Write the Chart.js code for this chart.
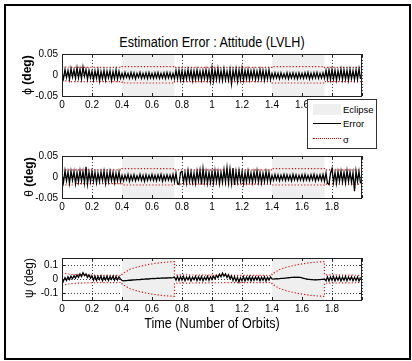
<!DOCTYPE html>
<html>
<head>
<meta charset="utf-8">
<script src="https://cdn.jsdelivr.net/npm/chart.js@4.4.1/dist/chart.umd.min.js"></script>
<style>
  body { margin: 0; background: #fff; width: 412px; height: 361px; overflow: hidden; position: relative;
         font-family: "Liberation Sans", Arial, sans-serif; color: #000; }
  #frame { position: absolute; left: 4px; top: 4px; width: 407px; height: 356px; box-sizing: border-box; border: 2px solid #000; }
  canvas { position: absolute; left: 0; }
  .ylab { position: absolute; transform: translate(-50%, -50%) rotate(-90deg); white-space: nowrap; font-size: 12px; }
  .ylab b { font-weight: bold; }
  #title { position: absolute; left: 212px; top: 42px; transform: translate(-50%, -50%) scaleX(0.9); font-size: 14px; white-space: nowrap; }
  #xtitle { position: absolute; left: 212px; top: 323px; transform: translate(-50%, -50%) scaleX(0.9); font-size: 14px; white-space: nowrap; }
  #legend { position: absolute; left: 307px; top: 99px; width: 70px; height: 50px; box-sizing: border-box;
            border: 1px solid #333; background: #fff; z-index: 2; font-size: 9.5px; }
  #legend .sw { position: absolute; left: 5px; width: 28px; }
  #legend .tx { position: absolute; left: 35px; }
</style>
</head>
<body>
<div id="frame"></div>
<div id="title">Estimation Error : Attitude (LVLH)</div>
<canvas id="cPhi"></canvas>
<canvas id="cTheta"></canvas>
<canvas id="cPsi"></canvas>
<div class="ylab" style="left:27px;top:75px">ϕ <b>(deg)</b></div>
<div class="ylab" style="left:29px;top:177px">θ <b>(deg)</b></div>
<div class="ylab" style="left:29px;top:278px">ψ (deg)</div>
<div id="xtitle">Time (Number of Orbits)</div>
<div id="legend">
  <div class="sw" style="top:4px;height:11px;background:#efefef"></div>
  <div class="tx" style="top:4px">Eclipse</div>
  <div class="sw" style="top:23px;height:0;border-top:1px solid #000"></div>
  <div class="tx" style="top:18px">Error</div>
  <div class="sw" style="top:38px;height:0;border-top:1px dotted #e00"></div>
  <div class="tx" style="top:34px">σ</div>
</div>
<script>
// time axis: orbits, one error sample every 0.01 orbit
const sampleStep = 0.01;
const eclipses = [[0.4, 0.75], [1.4, 1.75]];

// roll error (deg)
const phiErr = [
  .006,-.009,.013,-.006,.011,-.010,.015,-.005,.012,-.008,.017,-.007,.014,-.009,.019,-.003,.013,-.010,.011,-.007,
  .009,-.011,.010,-.008,.012,-.014,.008,-.009,.011,-.012,.009,-.007,.010,-.013,.008,-.009,.012,-.010,.009,-.008,
  .004,-.008,.006,-.006,.004,-.008,.006,-.007,.005,-.009,.004,-.006,.006,-.008,.004,-.007,.005,-.008,.006,-.007,
  .004,-.008,.005,-.007,.006,-.008,.004,-.007,.005,-.008,.006,-.007,.005,-.008,.004,-.009,.011,-.009,.012,-.011,
  .010,-.012,.009,-.010,.013,-.009,.011,-.013,.010,-.011,.012,-.010,.009,-.012,.011,-.009,.013,-.011,.010,-.015,
  .017,-.014,.012,-.011,.015,-.012,.010,-.013,.014,-.011,.009,-.012,.013,-.021,.011,-.010,.014,-.015,.012,-.011,
  .016,-.012,.011,-.010,.013,-.011,.010,-.009,.012,-.011,.009,-.010,.013,-.009,.011,-.012,.010,-.009,.012,-.010,
  .004,-.008,.005,-.007,.004,-.009,.005,-.007,.003,-.008,.005,-.009,.004,-.007,.005,-.008,.004,-.009,.005,-.007,
  .004,-.008,.005,-.007,.006,-.009,.004,-.008,.005,-.007,.006,-.008,.004,-.007,.005,-.008,.011,-.010,.012,-.011,
  .013,-.010,.011,-.012,.010,-.009,.014,-.011,.012,-.010,.011,-.012,.013,-.009,.010,-.011,.012,-.010,.015,-.009
];
// pitch error (deg)
const thetaErr = [
  .008,-.013,.015,-.009,.012,-.015,.014,-.008,.013,-.016,.011,-.012,.015,-.010,.013,-.014,.024,-.017,.012,-.011,
  .013,-.010,.011,-.014,.009,-.011,.012,-.009,.014,-.015,.010,-.011,.013,-.009,.011,-.013,.009,-.010,.012,-.011,
  .004,-.009,.004,-.007,.006,-.010,.004,-.008,.005,-.009,.003,-.007,.006,-.008,.004,-.010,.005,-.008,.004,-.007,
  .006,-.008,.004,-.009,.005,-.007,.006,-.010,.004,-.008,.005,-.007,.004,-.009,.006,-.011,.009,-.015,-.018,.011,
  .013,-.012,.010,-.014,.015,-.011,.012,-.013,.009,-.015,.014,-.010,.016,-.018,.020,-.012,.013,-.015,.011,-.013,
  .012,-.014,.015,-.011,.013,-.016,.011,-.013,.017,-.012,.022,-.014,.019,-.015,.021,-.019,.013,-.012,.015,-.011,
  .012,-.015,.010,-.012,.014,-.011,.009,-.013,.012,-.010,.015,-.012,.011,-.014,.009,-.011,.013,-.010,.011,-.012,
  .004,-.008,.006,-.007,.005,-.009,.004,-.007,.006,-.008,.005,-.007,.004,-.009,.006,-.007,.005,-.008,.004,-.007,
  .005,-.008,.006,-.007,.004,-.008,.005,-.007,.006,-.009,.004,-.007,.005,-.008,.006,-.010,.009,-.015,-.018,.009,
  .020,-.013,.011,-.015,.013,-.010,.014,-.012,.011,-.014,.015,-.011,.012,-.013,.010,-.034,.014,-.011,.013,-.015
];
// yaw error (deg)
const psiErr = [
  -.040,-.012,.010,-.010,.016,-.004,.020,.002,.024,.006,.030,.012,.036,.018,.044,.024,.036,.012,.030,.006,
  .022,-.008,.020,-.010,.018,-.004,.021,-.012,.016,-.006,.019,-.010,.017,-.002,.020,-.009,.018,-.007,.016,.000,
  -.010,-.013,-.012,-.011,-.010,-.009,-.009,-.007,-.006,-.006,-.005,-.004,-.004,-.002,-.003,-.001,.000,.001,.000,.002,
  .003,.004,.003,.005,.006,.005,.006,.007,.006,.008,.007,.008,.009,.008,.010,.014,-.008,.018,-.010,.016,
  -.008,.017,-.012,.014,-.006,.016,-.014,.013,-.004,.018,-.010,.015,-.008,.017,-.012,.013,-.006,.019,-.009,.016,
  -.004,.020,.002,.026,.010,.034,.016,.042,.020,.036,.010,.030,.002,.022,-.010,.016,-.014,.012,-.022,.010,
  -.012,.016,-.014,.013,-.008,.017,-.013,.014,-.010,.015,-.007,.016,-.012,.013,-.009,.016,-.014,.012,-.008,.014,
  .000,-.001,.001,.002,.001,.003,.004,.005,.004,.006,.008,.009,.010,.011,.012,.013,.012,.014,.012,.011,
  .008,.005,.002,.000,-.002,-.003,-.004,-.005,-.006,-.005,-.006,-.005,-.004,-.003,-.002,.000,-.012,.016,-.014,.014,
  -.010,.017,-.013,.015,-.008,.016,-.014,.013,-.009,.018,-.012,.014,-.007,.016,-.013,.012,-.010,.015,-.014,.013
];

// sigma envelopes (deg) at breakpoints in orbits
const phiSigT  = [0, 0.06, 0.06, 0.4, 0.4, 0.75, 0.75, 1.4, 1.4, 1.75, 1.75, 2.0];
const phiSigHi = [.019, .019, .018, .018, .020, .020, .018, .018, .020, .020, .018, .018];
const phiSigLo = [-.014, -.014, -.016, -.016, -.019, -.019, -.016, -.016, -.019, -.019, -.016, -.016];

const thetaSigT  = [0, 0.1, 0.1, 0.4, 0.4, 0.75, 0.75, 1.4, 1.4, 1.75, 1.75, 2.0];
const thetaSigHi = [.017, .017, .017, .017, .020, .020, .017, .017, .020, .020, .017, .017];
const thetaSigLo = [-.019, -.019, -.016, -.016, -.019, -.019, -.017, -.017, -.019, -.019, -.017, -.017];

const psiSigT  = [0, 0.02, 0.05, 0.1, 0.2, 0.4, 0.4, 0.45, 0.5, 0.55, 0.6, 0.65, 0.7, 0.75, 0.75, 1.0, 1.4,
                  1.4, 1.45, 1.5, 1.55, 1.6, 1.65, 1.7, 1.75, 1.75, 2.0];
const psiSigHi = [.045, .040, .034, .030, .027, .025, .035, .068, .085, .098, .108, .116, .121, .124, .030, .027, .025,
                  .035, .068, .085, .098, .108, .116, .121, .124, .030, .026];
const psiSigLo = [-.045, -.040, -.034, -.030, -.027, -.025, -.035, -.068, -.085, -.098, -.108, -.116, -.121, -.124, -.030, -.027, -.025,
                  -.035, -.068, -.085, -.098, -.108, -.116, -.121, -.124, -.030, -.026];

const smallTicks = [-0.05, 0, 0.05];
const psiTicks = [-0.1, 0, 0.1];

const PAD_TOP = 8, AXIS_H = 22, PLOT_H = 44;
const tickFont = { family: '"Liberation Sans", Arial, sans-serif', size: 10 };

const panels = [
  { id: 'cPhi',   top: 52,  err: phiErr,   sigT: phiSigT,   hi: phiSigHi,   lo: phiSigLo,   yMin: -0.05, yMax: 0.05, ticks: smallTicks },
  { id: 'cTheta', top: 154, err: thetaErr, sigT: thetaSigT, hi: thetaSigHi, lo: thetaSigLo, yMin: -0.05, yMax: 0.05, ticks: smallTicks },
  { id: 'cPsi',   top: 256, err: psiErr,   sigT: psiSigT,   hi: psiSigHi,   lo: psiSigLo,   yMin: -0.15, yMax: 0.15, ticks: psiTicks }
];

const eclipseShade = {
  id: 'eclipseShade',
  beforeDatasetsDraw(chart) {
    const { ctx, chartArea: a, scales: { x } } = chart;
    ctx.save();
    ctx.fillStyle = '#efefef';
    eclipses.forEach(([s, e]) => {
      const x0 = x.getPixelForValue(s), x1 = x.getPixelForValue(e);
      ctx.fillRect(x0, a.top, x1 - x0, a.bottom - a.top);
    });
    ctx.restore();
  }
};

const axesBox = {
  id: 'axesBox',
  afterDraw(chart) {
    const { ctx, chartArea: a, scales: { x, y } } = chart;
    ctx.save();
    ctx.strokeStyle = '#222';
    ctx.lineWidth = 1;
    ctx.strokeRect(Math.round(a.left) + 0.5, Math.round(a.top) + 0.5, Math.round(a.right - a.left) - 1, Math.round(a.bottom - a.top));
    ctx.beginPath();
    x.ticks.forEach(t => {
      const px = Math.round(x.getPixelForValue(t.value)) + 0.5;
      ctx.moveTo(px, a.bottom); ctx.lineTo(px, a.bottom - 3);
      ctx.moveTo(px, a.top); ctx.lineTo(px, a.top + 3);
    });
    y.ticks.forEach(t => {
      const py = Math.round(y.getPixelForValue(t.value)) + 0.5;
      ctx.moveTo(a.left, py); ctx.lineTo(a.left + 3, py);
      ctx.moveTo(a.right, py); ctx.lineTo(a.right - 3, py);
    });
    ctx.stroke();
    ctx.restore();
  }
};

panels.forEach(p => {
  const cv = document.getElementById(p.id);
  cv.width = 412;
  cv.height = PAD_TOP + PLOT_H + AXIS_H;
  cv.style.top = (p.top - PAD_TOP) + 'px';

  const errPts = p.err.map((v, i) => ({ x: i * sampleStep, y: v }));
  const hiPts = p.sigT.map((t, i) => ({ x: t, y: p.hi[i] }));
  const loPts = p.sigT.map((t, i) => ({ x: t, y: p.lo[i] }));
  const sigStyle = { borderColor: '#e01010', borderWidth: 1.2, borderDash: [1.2, 2], pointRadius: 0, tension: 0, fill: false };

  new Chart(cv, {
    type: 'line',
    data: {
      datasets: [
        { label: 'Error', data: errPts, borderColor: '#000', borderWidth: 1.3, pointRadius: 0, tension: 0, fill: false },
        Object.assign({ label: 'σ', data: hiPts }, sigStyle),
        Object.assign({ label: 'σ low', data: loPts }, sigStyle)
      ]
    },
    options: {
      responsive: false,
      animation: false,
      events: [],
      layout: { padding: { top: PAD_TOP, right: 50, left: 0, bottom: 0 } },
      plugins: { legend: { display: false }, tooltip: { enabled: false } },
      scales: {
        x: {
          type: 'linear', min: 0, max: 2,
          afterFit: s => { s.height = AXIS_H; },
          ticks: {
            stepSize: 0.2, autoSkip: false, maxRotation: 0, padding: 3, color: '#000', font: tickFont,
            callback: v => (v > 1.99 ? '' : String(Math.round(v * 10) / 10))
          },
          grid: { color: '#444', lineWidth: 1, drawTicks: false },
          border: { display: false, dash: [1, 2] }
        },
        y: {
          min: p.yMin, max: p.yMax,
          afterFit: s => { s.width = 62; },
          afterBuildTicks: s => { s.ticks = p.ticks.map(v => ({ value: v })); },
          ticks: { padding: 4, color: '#000', font: tickFont, callback: v => String(v) },
          grid: { color: '#444', lineWidth: 1, drawTicks: false },
          border: { display: false, dash: [1, 2] }
        }
      }
    },
    plugins: [eclipseShade, axesBox]
  });
});
</script>
</body>
</html>
